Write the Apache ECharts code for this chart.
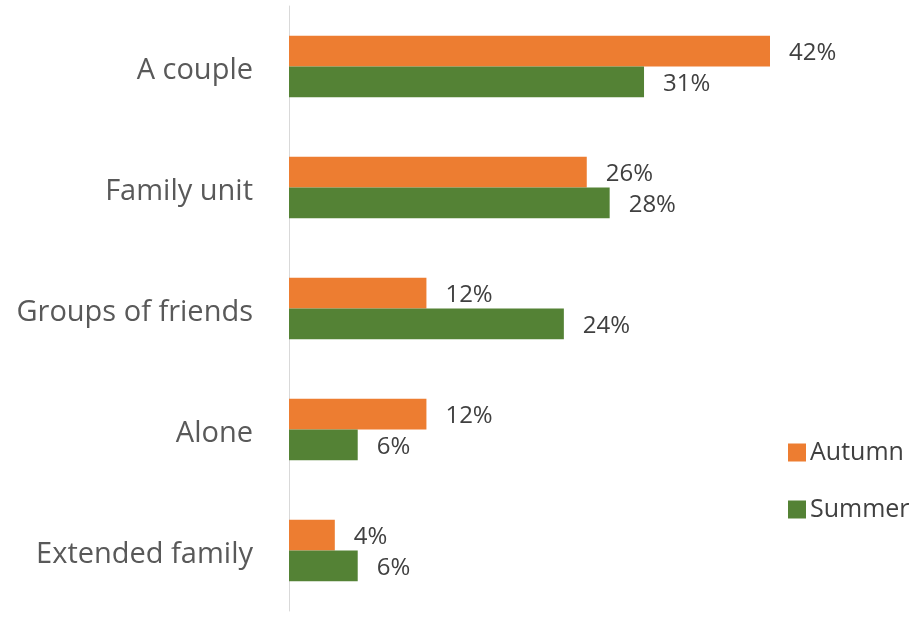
<!DOCTYPE html>
<html>
<head>
<meta charset="utf-8">
<script src="https://cdn.jsdelivr.net/npm/echarts@6/dist/echarts.min.js"></script>
<style>html,body{margin:0;padding:0;background:#fff}#c{width:913px;height:622px}</style>
</head>
<body>
<div id="c"></div>
<script>
const categories = ['A couple', 'Family unit', 'Groups of friends', 'Alone', 'Extended family'];
const seriesNames = ['Autumn', 'Summer'];
const autumn = [42, 26, 12, 12, 4];
const summer = [31, 28, 24, 6, 6];

const chart = echarts.init(document.getElementById('c'));
const labelStyle = {
  show: true,
  position: 'right',
  distance: 19,
  formatter: '{c}%',
  color: '#404040',
  fontFamily: 'Open Sans',
  fontSize: 24,
  offset: [0, 2]
};
chart.setOption({
  animation: false,
  backgroundColor: '#ffffff',
  grid: { left: 289, top: 6, width: 481, height: 605, containLabel: false },
  legend: {
    orient: 'vertical',
    left: 783,
    top: 435,
    itemWidth: 18,
    itemHeight: 18,
    itemGap: 32,
    icon: 'rect',
    textStyle: { color: '#404040', fontFamily: 'Open Sans', fontSize: 25, lineHeight: 25, padding: [0, 0, 0, -1] },
    data: seriesNames
  },
  xAxis: {
    type: 'value', min: 0, max: 42, show: false, splitLine: { show: false }
  },
  yAxis: {
    type: 'category',
    inverse: true,
    data: categories,
    axisTick: { show: false },
    axisLine: { show: true, lineStyle: { color: '#d9d9d9', width: 1 } },
    axisLabel: {
      margin: 36,
      formatter: '{a|{value}}',
      rich: { a: { color: '#595959', fontFamily: 'Open Sans', fontSize: 29, lineHeight: 29, padding: [8, 0, 0, 0] } }
    }
  },
  series: [
    { name: seriesNames[0], type: 'bar', data: autumn, itemStyle: { color: '#ED7D31' },
      barGap: '0%', barCategoryGap: '49%', label: labelStyle },
    { name: seriesNames[1], type: 'bar', data: summer, itemStyle: { color: '#548235' },
      barGap: '0%', barCategoryGap: '49%', label: labelStyle }
  ]
});
</script>
</body>
</html>
